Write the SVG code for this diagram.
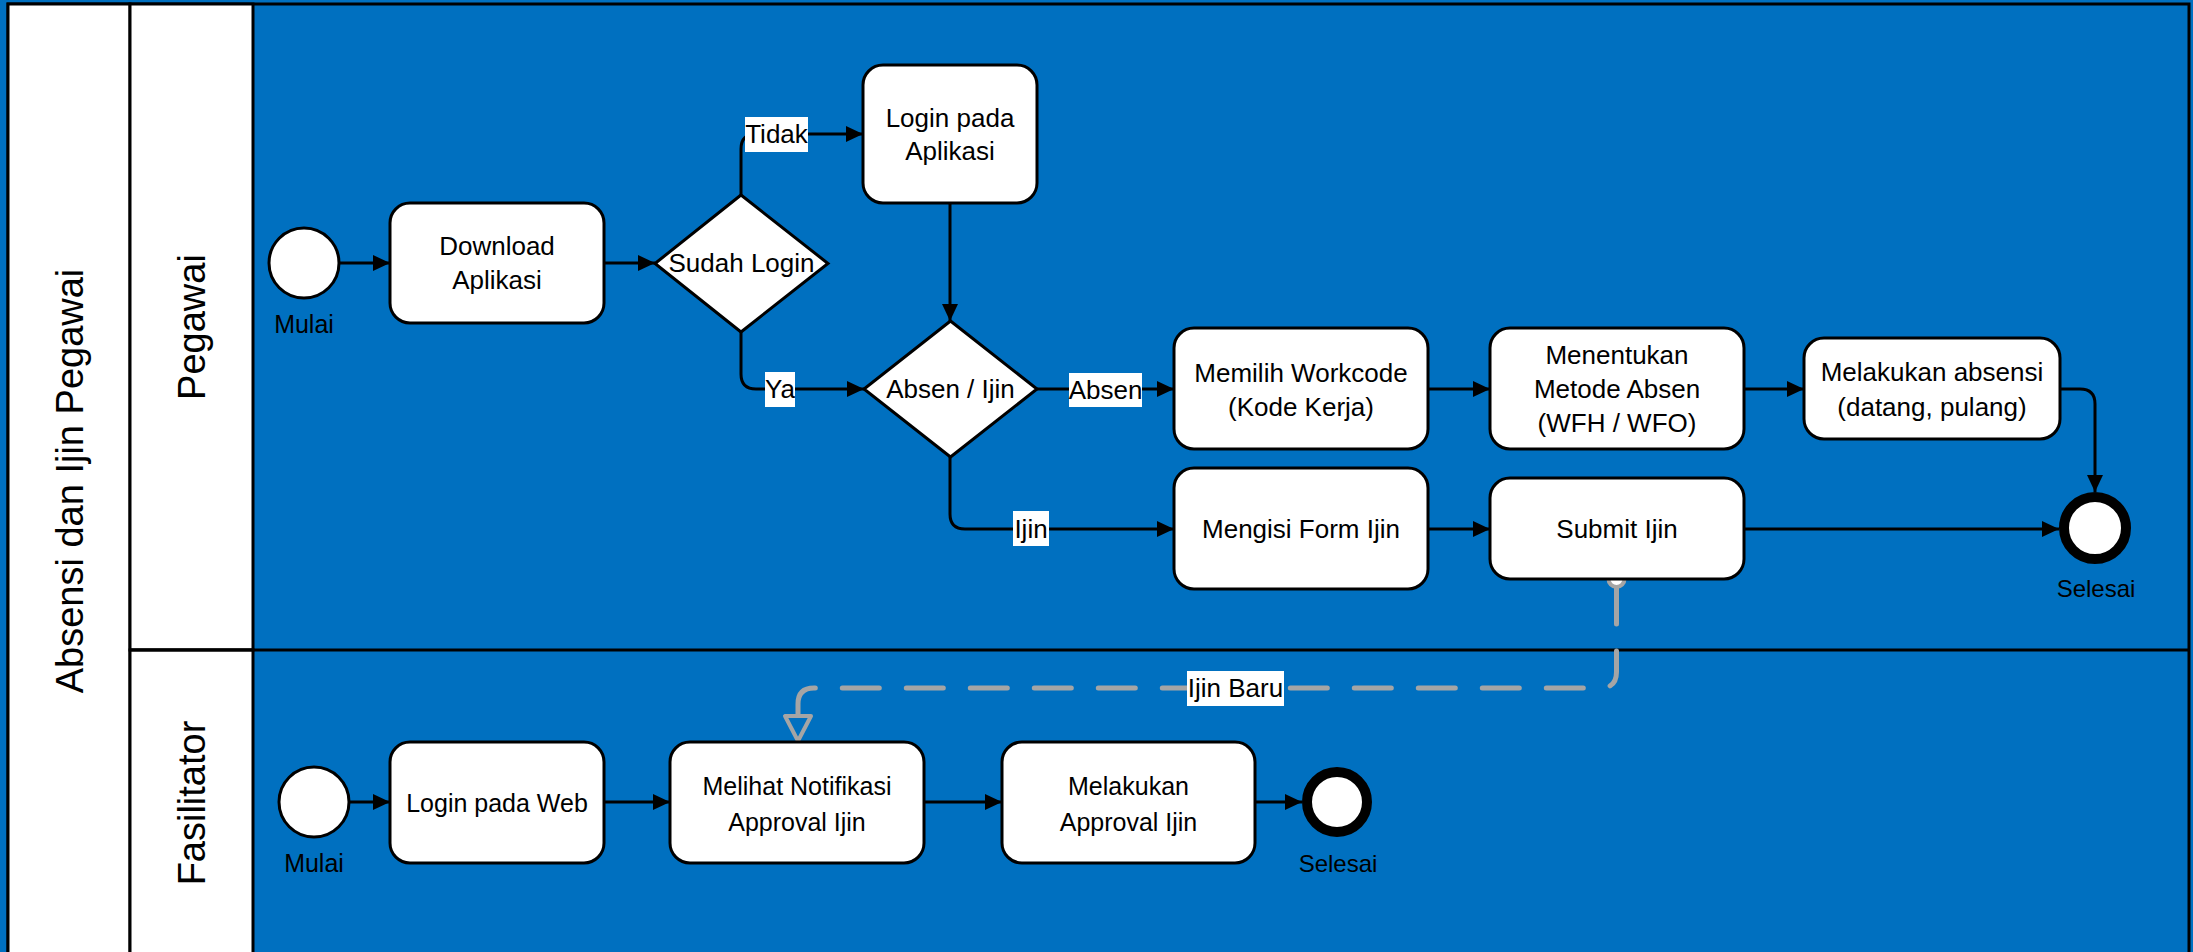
<svg xmlns="http://www.w3.org/2000/svg" width="2193" height="952" viewBox="0 0 2193 952">
<style>
  .lane{fill:#0070C0;stroke:none}
  .hdr{fill:#FFFFFF;stroke:#000;stroke-width:3}
  .ln{stroke:#000;stroke-width:3;fill:none}
  .box{fill:#FFFFFF;stroke:#000;stroke-width:3}
  .start{fill:#FFFFFF;stroke:#000;stroke-width:3}
  .end{fill:#FFFFFF;stroke:#000;stroke-width:10}
  .t{font-family:"Liberation Sans",Arial,sans-serif;font-size:26px;fill:#000;text-anchor:middle}
  .t2{font-family:"Liberation Sans",Arial,sans-serif;font-size:25px;fill:#000;text-anchor:middle}
  .ev{font-family:"Liberation Sans",Arial,sans-serif;font-size:25px;fill:#000;text-anchor:middle}
  .big{font-family:"Liberation Sans",Arial,sans-serif;font-size:38px;fill:#000;text-anchor:middle}
  .flow{stroke:#000;stroke-width:3;fill:none;marker-end:url(#arr)}
  .msg{stroke:#A5A5A5;stroke-width:5;fill:none;stroke-dasharray:37 27;stroke-linecap:round;marker-end:url(#open)}
  .lbg{fill:#FFFFFF;stroke:none}
</style>
<defs>
  <marker id="arr" markerUnits="userSpaceOnUse" markerWidth="18" markerHeight="18" refX="17" refY="8" orient="auto">
    <path d="M0,0 L17,8 L0,16 z" fill="#000"/>
  </marker>
  <marker id="open" markerUnits="userSpaceOnUse" markerWidth="32" markerHeight="34" refX="2" refY="15" orient="auto">
    <path d="M2,2 L27,15 L2,28 z" fill="#0070C0" stroke="#A5A5A5" stroke-width="4" stroke-linejoin="round"/>
  </marker>
</defs>

<rect x="0" y="0" width="2193" height="952" class="lane"/>

<g id="pool">
  <rect x="8" y="4" width="2181" height="954" fill="#0070C0" stroke="#000" stroke-width="3"/>
  <rect x="8" y="4" width="122" height="954" class="hdr"/>
  <text class="big" transform="translate(83,481) rotate(-90)">Absensi dan Ijin Pegawai</text>
</g>
<g id="lane-pegawai">
  <rect x="130" y="4" width="123" height="646" class="hdr"/>
  <text class="big" transform="translate(205,327) rotate(-90)">Pegawai</text>
</g>
<g id="lane-fasilitator">
  <rect x="130" y="650" width="123" height="308" class="hdr"/>
  <line x1="130" y1="650" x2="2189" y2="650" class="ln"/>
  <text class="big" transform="translate(205,803) rotate(-90)">Fasilitator</text>
</g>

<g id="connectors">
  <path class="flow" d="M340,263 H390"/>
  <path class="flow" d="M604,263 H655"/>
  <path class="flow" d="M741,195 V149 Q741,134 756,134 H863"/>
  <path class="flow" d="M741,332 V374 Q741,389 756,389 H864"/>
  <path class="flow" d="M950,203 V321"/>
  <path class="flow" d="M1037,389 H1174"/>
  <path class="flow" d="M1428,389 H1490"/>
  <path class="flow" d="M1744,389 H1804"/>
  <path class="flow" d="M2060,389 H2080 Q2095,389 2095,404 V492"/>
  <path class="flow" d="M950,457 V514 Q950,529 965,529 H1174"/>
  <path class="flow" d="M1428,529 H1490"/>
  <path class="flow" d="M1744,529 H2059"/>
  <path class="flow" d="M350,802 H390"/>
  <path class="flow" d="M604,802 H670"/>
  <path class="flow" d="M924,802 H1002"/>
  <path class="flow" d="M1255,802 H1302"/>
  <path class="msg" d="M1616.5,587 V672 Q1616.5,688 1600.5,688 H814 Q798,688 798,704 V716"/>
  <circle cx="1616.5" cy="579" r="8" fill="#FFFFFF" stroke="#A5A5A5" stroke-width="4"/>
  <g id="labels">
    <rect x="745" y="117" width="63" height="35" class="lbg"/>
    <text class="t" x="776.5" y="143">Tidak</text>
    <rect x="765" y="372" width="30" height="35" class="lbg"/>
    <text class="t" x="780" y="398">Ya</text>
    <rect x="1069" y="373" width="73" height="34" class="lbg"/>
    <text class="t" x="1105.5" y="399">Absen</text>
    <rect x="1013" y="511" width="36" height="35" class="lbg"/>
    <text class="t" x="1031" y="538">Ijin</text>
    <rect x="1187" y="671" width="97" height="35" class="lbg"/>
    <text class="t" x="1235.5" y="697">Ijin Baru</text>
  </g>
</g>

<g id="start-pegawai">
  <circle cx="304" cy="263" r="35" class="start"/>
  <text class="ev" x="304" y="333">Mulai</text>
</g>
<g id="download">
  <rect x="390" y="203" width="214" height="120" rx="20" class="box"/>
  <text class="t" x="497" y="255">Download</text>
  <text class="t" x="497" y="289">Aplikasi</text>
</g>
<g id="sudah-login">
  <polygon points="741,195 828,263.5 741,332 655,263.5" class="box"/>
  <text class="t" x="741.5" y="272">Sudah Login</text>
</g>
<g id="login-aplikasi">
  <rect x="863" y="65" width="174" height="138" rx="20" class="box"/>
  <text class="t" x="950" y="127">Login pada</text>
  <text class="t" x="950" y="160">Aplikasi</text>
</g>
<g id="absen-ijin">
  <polygon points="950.5,321 1037,389 950.5,457 864,389" class="box"/>
  <text class="t" x="950.5" y="398">Absen / Ijin</text>
</g>
<g id="memilih-workcode">
  <rect x="1174" y="328" width="254" height="121" rx="20" class="box"/>
  <text class="t" x="1301" y="382">Memilih Workcode</text>
  <text class="t" x="1301" y="416">(Kode Kerja)</text>
</g>
<g id="menentukan-metode">
  <rect x="1490" y="328" width="254" height="121" rx="20" class="box"/>
  <text class="t" x="1617" y="364">Menentukan</text>
  <text class="t" x="1617" y="398">Metode Absen</text>
  <text class="t" x="1617" y="432">(WFH / WFO)</text>
</g>
<g id="melakukan-absensi">
  <rect x="1804" y="338" width="256" height="101" rx="20" class="box"/>
  <text class="t" x="1932" y="381">Melakukan absensi</text>
  <text class="t" x="1932" y="416">(datang, pulang)</text>
</g>
<g id="mengisi-form">
  <rect x="1174" y="468" width="254" height="121" rx="20" class="box"/>
  <text class="t" x="1301" y="538">Mengisi Form Ijin</text>
</g>
<g id="submit-ijin">
  <rect x="1490" y="478" width="254" height="101" rx="20" class="box"/>
  <text class="t" x="1617" y="538">Submit Ijin</text>
</g>
<g id="end-pegawai">
  <circle cx="2095" cy="528" r="31" class="end"/>
  <text class="ev" x="2096" y="597" style="font-size:24px">Selesai</text>
</g>

<g id="start-fasilitator">
  <circle cx="314" cy="802" r="35" class="start"/>
  <text class="ev" x="314" y="872">Mulai</text>
</g>
<g id="login-web">
  <rect x="390" y="742" width="214" height="121" rx="20" class="box"/>
  <text class="t2" x="497" y="812">Login pada Web</text>
</g>
<g id="melihat-notifikasi">
  <rect x="670" y="742" width="254" height="121" rx="20" class="box"/>
  <text class="t2" x="797" y="795">Melihat Notifikasi</text>
  <text class="t2" x="797" y="831">Approval Ijin</text>
</g>
<g id="melakukan-approval">
  <rect x="1002" y="742" width="253" height="121" rx="20" class="box"/>
  <text class="t2" x="1128.5" y="795">Melakukan</text>
  <text class="t2" x="1128.5" y="831">Approval Ijin</text>
</g>
<g id="end-fasilitator">
  <circle cx="1337" cy="802" r="30" class="end"/>
  <text class="ev" x="1338" y="872" style="font-size:24px">Selesai</text>
</g>
</svg>
